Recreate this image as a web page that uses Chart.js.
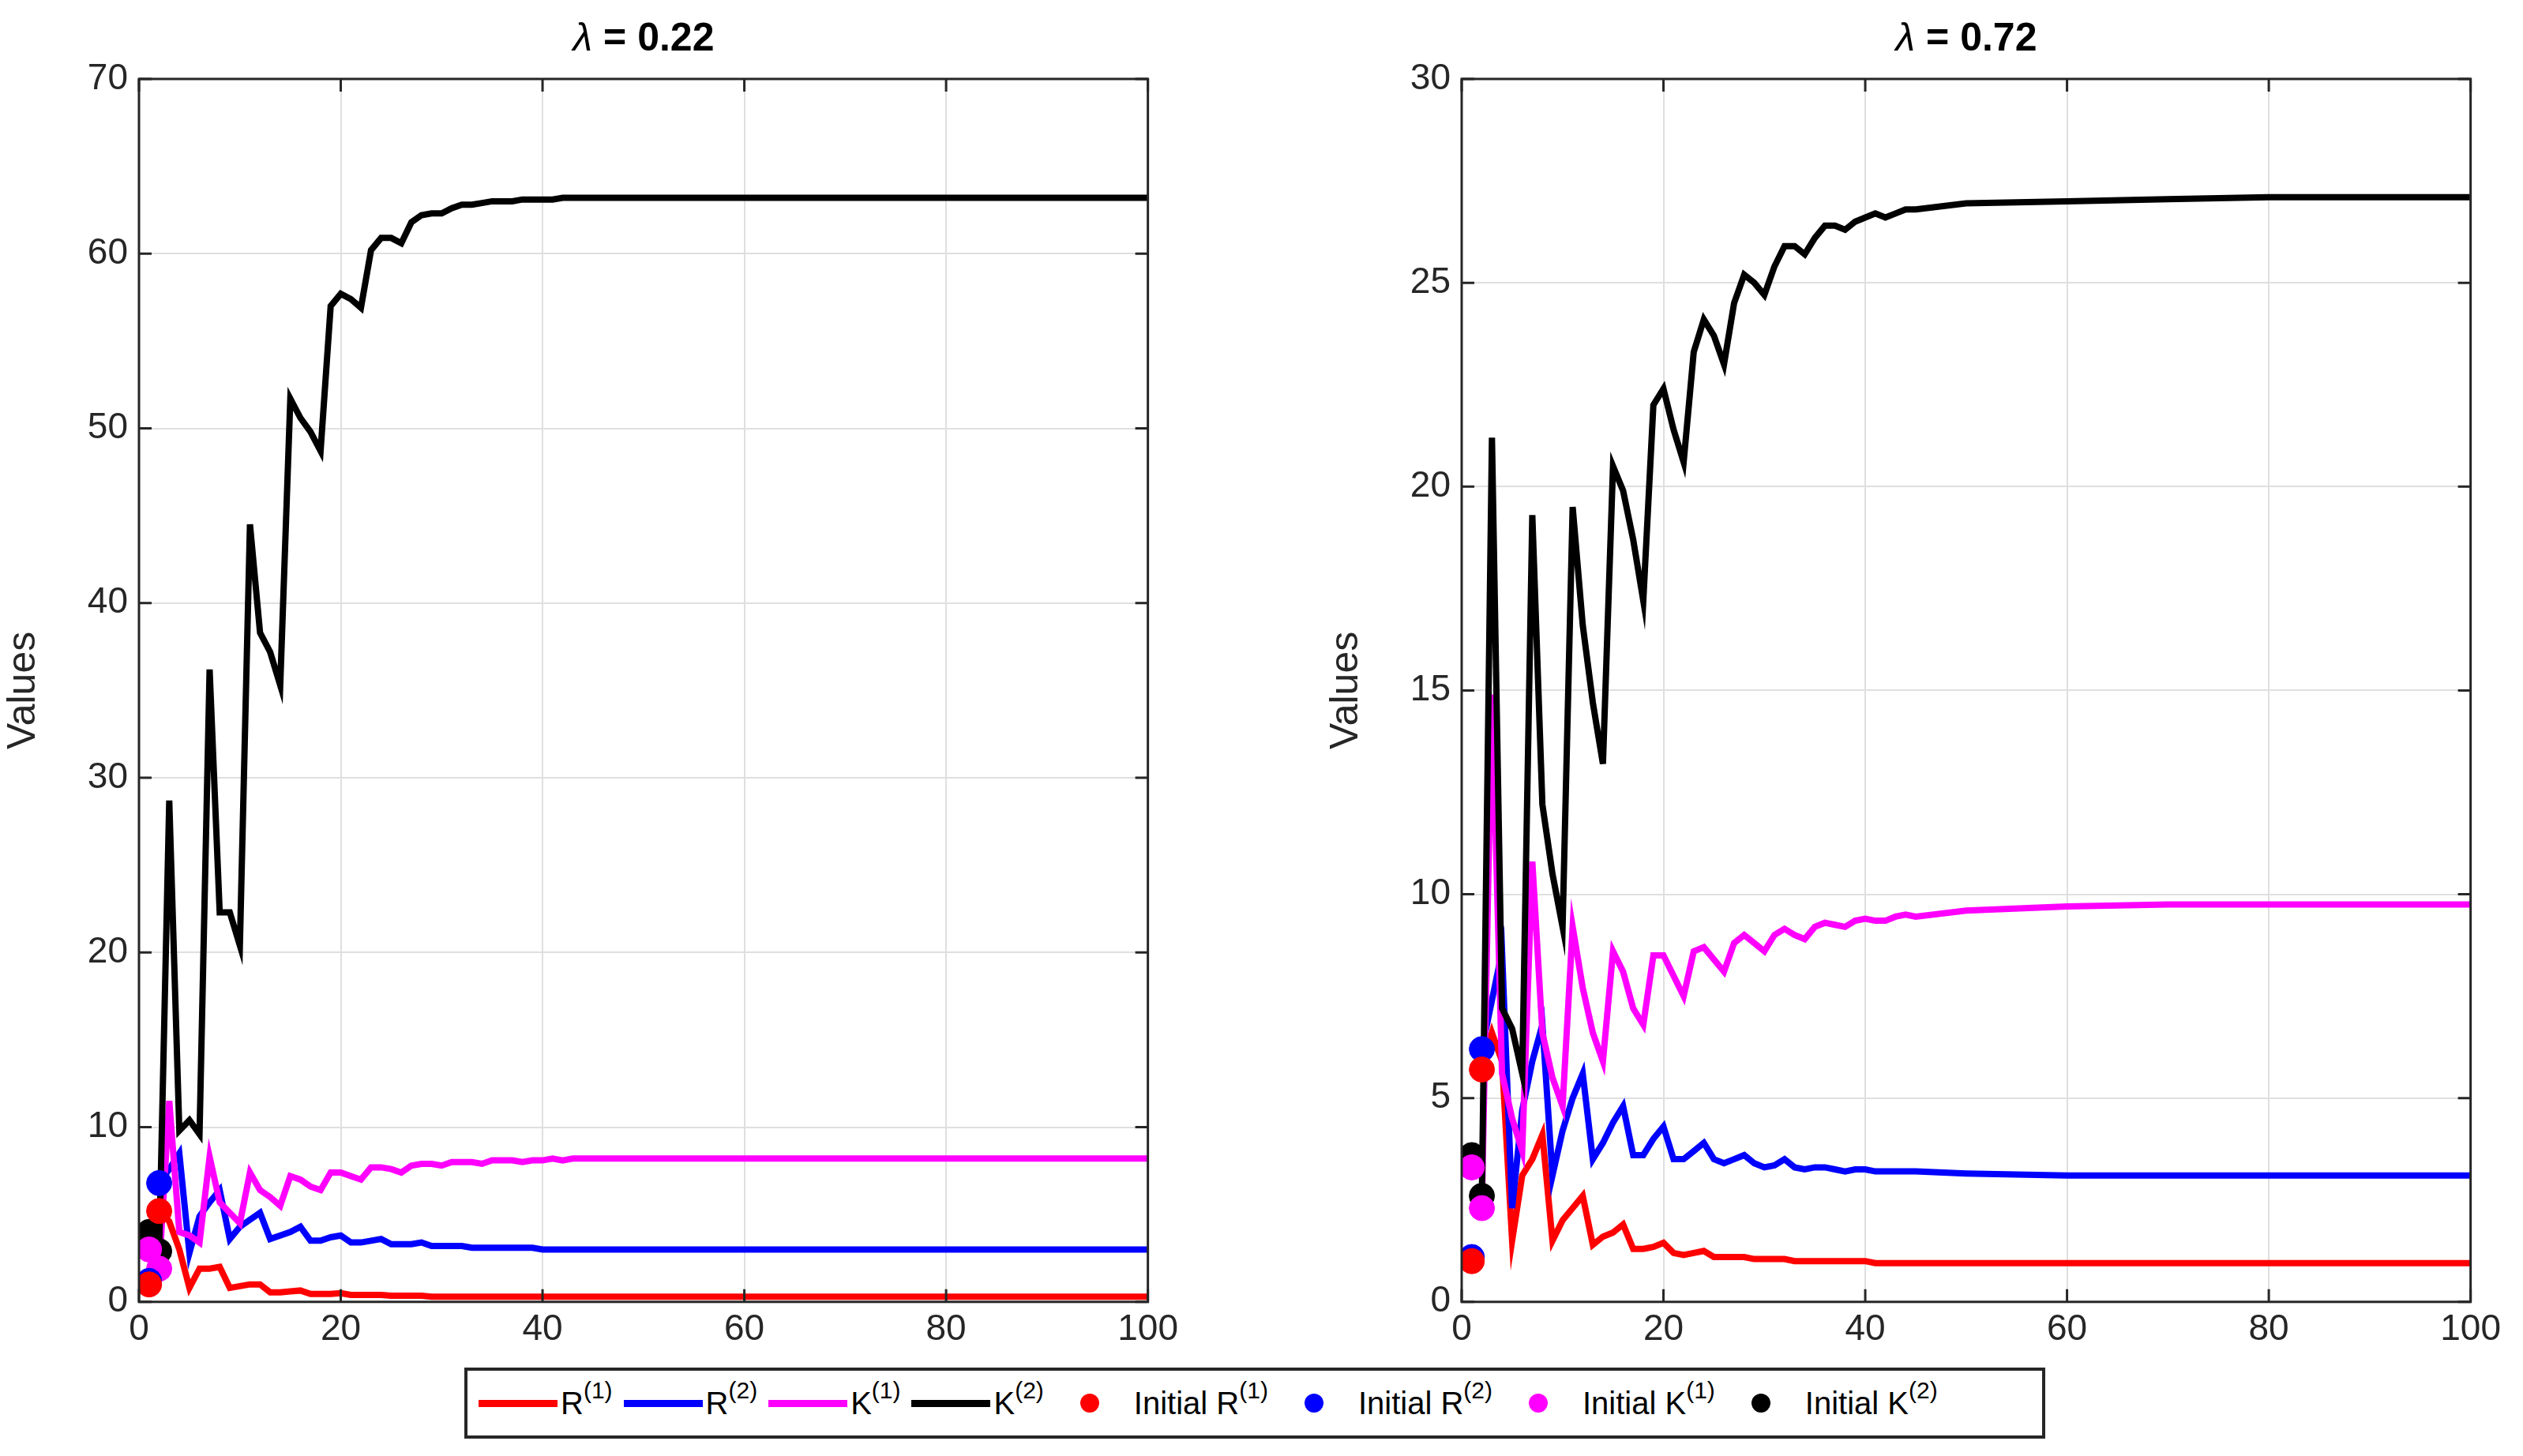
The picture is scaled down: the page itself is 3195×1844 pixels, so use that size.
<!DOCTYPE html>
<html>
<head>
<meta charset="utf-8">
<script src="https://cdn.jsdelivr.net/npm/chart.js@4"></script>
<style>
  body { margin: 0; background: #fff; width: 3195px; height: 1844px; position: relative; font-family: "Liberation Sans", Arial, sans-serif; overflow: hidden; }
  canvas { position: absolute; top: 0; }
  .title { position: absolute; top: 18px; font-size: 50px; color: #000; text-align: center; width: 600px; }
  .legend { position: absolute; left: 588px; top: 1732px; width: 1994px; height: 82px; border: 4px solid #262626; background: #fff;
    display: flex; align-items: center; font-size: 40px; color: #000; white-space: nowrap; }
  .legend span { display: inline-flex; align-items: center; }
  .ln { display: inline-block; width: 100px; height: 9px; margin: 0 4px 0 14px; }
  .dt { display: inline-block; width: 24px; height: 24px; border-radius: 50%; margin: 0 44px 0 46px; }
  sup { font-size: 30px; position: relative; top: -16px; }
</style>
</head>
<body>
<canvas id="left" width="1500" height="1720" style="left:0"></canvas>
<canvas id="right" width="1500" height="1720" style="left:1675px"></canvas>
<div class="title" style="left:515px"><i>λ</i> <b>= 0.22</b></div>
<div class="title" style="left:2190px"><i>λ</i> <b>= 0.72</b></div>
<div class="legend">
  <span><i class="ln" style="background:#ff0000"></i>R<sup>(1)</sup></span>
  <span><i class="ln" style="background:#0000ff"></i>R<sup>(2)</sup></span>
  <span><i class="ln" style="background:#ff00ff"></i>K<sup>(1)</sup></span>
  <span><i class="ln" style="background:#000000"></i>K<sup>(2)</sup></span>
  <span><i class="dt" style="background:#ff0000"></i>Initial R<sup>(1)</sup></span>
  <span><i class="dt" style="background:#0000ff"></i>Initial R<sup>(2)</sup></span>
  <span><i class="dt" style="background:#ff00ff"></i>Initial K<sup>(1)</sup></span>
  <span><i class="dt" style="background:#000000"></i>Initial K<sup>(2)</sup></span>
</div>
<script>
// iteration numbers (flat after ~45, so only every 10th kept beyond)
const iters = [2,3,4,5,6,7,8,9,10,11,12,13,14,15,16,17,18,19,20,21,22,23,24,25,26,27,28,29,30,31,32,33,34,35,36,37,38,39,40,41,42,43,44,45,50,60,70,80,90,100];
const initIters = [1, 2];

// lambda = 0.22
const leftR1 = [5.2,4.6,3.0,0.8,1.9,1.9,2.0,0.8,0.9,1.0,1.0,0.55,0.55,0.6,0.65,0.45,0.45,0.45,0.5,0.4,0.4,0.4,0.4,0.35,0.35,0.35,0.35,0.3,0.3,0.3,0.3,0.3,0.3,0.3,0.3,0.3,0.3,0.3,0.3,0.3,0.3,0.3,0.3,0.3,0.3,0.3,0.3,0.3,0.3,0.3];
const leftR2 = [6.8,7.6,8.5,2.8,4.9,5.7,6.4,3.6,4.3,4.7,5.1,3.6,3.8,4.0,4.3,3.5,3.5,3.7,3.8,3.4,3.4,3.5,3.6,3.3,3.3,3.3,3.4,3.2,3.2,3.2,3.2,3.1,3.1,3.1,3.1,3.1,3.1,3.1,3.0,3.0,3.0,3.0,3.0,3.0,3.0,3.0,3.0,3.0,3.0,3.0];
const leftK1 = [1.9,11.5,4.0,3.8,3.4,8.3,5.7,5.1,4.5,7.4,6.4,6.0,5.5,7.2,7.0,6.6,6.4,7.4,7.4,7.2,7.0,7.7,7.7,7.6,7.4,7.8,7.9,7.9,7.8,8.0,8.0,8.0,7.9,8.1,8.1,8.1,8.0,8.1,8.1,8.2,8.1,8.2,8.2,8.2,8.2,8.2,8.2,8.2,8.2,8.2];
const leftK2 = [3.0,28.7,9.8,10.4,9.6,36.2,22.3,22.3,20.4,44.5,38.3,37.2,35.3,51.7,50.6,49.8,48.7,57.0,57.7,57.4,56.9,60.2,60.9,60.9,60.6,61.8,62.2,62.3,62.3,62.6,62.8,62.8,62.9,63.0,63.0,63.0,63.1,63.1,63.1,63.1,63.2,63.2,63.2,63.2,63.2,63.2,63.2,63.2,63.2,63.2];
const leftInit = { R1: [1.0, 5.2], R2: [1.2, 6.8], K1: [3.0, 1.9], K2: [4.0, 2.9] };

// lambda = 0.72
const rightR1 = [5.7,6.6,5.9,1.5,3.1,3.5,4.1,1.5,2.0,2.3,2.6,1.4,1.6,1.7,1.9,1.3,1.3,1.35,1.45,1.2,1.15,1.2,1.25,1.1,1.1,1.1,1.1,1.05,1.05,1.05,1.05,1.0,1.0,1.0,1.0,1.0,1.0,1.0,1.0,0.95,0.95,0.95,0.95,0.95,0.95,0.95,0.95,0.95,0.95,0.95];
const rightR2 = [6.2,7.4,8.6,2.3,4.7,5.9,6.8,3.1,4.2,5.0,5.6,3.5,3.9,4.4,4.8,3.6,3.6,4.0,4.3,3.5,3.5,3.7,3.9,3.5,3.4,3.5,3.6,3.4,3.3,3.35,3.5,3.3,3.25,3.3,3.3,3.25,3.2,3.25,3.25,3.2,3.2,3.2,3.2,3.2,3.15,3.1,3.1,3.1,3.1,3.1];
const rightK1 = [2.3,14.9,5.6,4.5,3.7,10.8,6.6,5.5,4.8,9.2,7.7,6.6,5.9,8.6,8.1,7.2,6.8,8.5,8.5,8.0,7.5,8.6,8.7,8.4,8.1,8.8,9.0,8.8,8.6,9.0,9.15,9.0,8.9,9.2,9.3,9.25,9.2,9.35,9.4,9.35,9.35,9.45,9.5,9.45,9.6,9.7,9.75,9.75,9.75,9.75];
const rightK2 = [2.6,21.2,7.2,6.7,5.6,19.3,12.2,10.5,9.2,19.5,16.6,14.7,13.2,20.5,19.9,18.7,17.2,22.0,22.4,21.4,20.6,23.3,24.1,23.7,23.0,24.5,25.2,25.0,24.7,25.4,25.9,25.9,25.7,26.1,26.4,26.4,26.3,26.5,26.6,26.7,26.6,26.7,26.8,26.8,26.95,27.0,27.05,27.1,27.1,27.1];
const rightInit = { R1: [1.0, 5.7], R2: [1.1, 6.2], K1: [3.3, 2.3], K2: [3.6, 2.6] };

const colors = { R1: '#ff0000', R2: '#0000ff', K1: '#ff00ff', K2: '#000000' };
const axisColor = '#262626';

function pts(xs, ys) {
  return xs.map((x, i) => ({ x: x, y: ys[i] }));
}

// full MATLAB-style box with inward ticks
const boxPlugin = {
  id: 'box',
  afterDraw(chart) {
    const { ctx, chartArea: a, scales } = chart;
    ctx.save();
    ctx.strokeStyle = axisColor;
    ctx.lineWidth = 3;
    ctx.strokeRect(a.left, a.top, a.right - a.left, a.bottom - a.top);
    ctx.beginPath();
    scales.x.ticks.forEach(t => {
      const px = scales.x.getPixelForValue(t.value);
      ctx.moveTo(px, a.bottom); ctx.lineTo(px, a.bottom - 16);
      ctx.moveTo(px, a.top); ctx.lineTo(px, a.top + 16);
    });
    scales.y.ticks.forEach(t => {
      const py = scales.y.getPixelForValue(t.value);
      ctx.moveTo(a.left, py); ctx.lineTo(a.left + 16, py);
      ctx.moveTo(a.right, py); ctx.lineTo(a.right - 16, py);
    });
    ctx.stroke();
    ctx.restore();
  }
};

function makeChart(id, r1, r2, k1, k2, init, yMax, yStep) {
  const lineSet = (data, c, order) => ({
    type: 'line', data: pts(iters, data), borderColor: c, borderWidth: 8,
    pointRadius: 0, tension: 0, order: order, borderJoinStyle: 'miter'
  });
  const dotSet = (data, c) => ({
    type: 'scatter', data: pts(initIters, data), backgroundColor: c, borderColor: c,
    pointRadius: 16, order: 0
  });
  return new Chart(document.getElementById(id), {
    type: 'line',
    data: {
      datasets: [
        lineSet(r1, colors.R1, 4),
        lineSet(r2, colors.R2, 3),
        lineSet(k1, colors.K1, 2),
        lineSet(k2, colors.K2, 1),
        dotSet(init.R1, colors.R1),
        dotSet(init.R2, colors.R2),
        dotSet(init.K1, colors.K1),
        dotSet(init.K2, colors.K2),
      ],
    },
    options: {
      responsive: false,
      devicePixelRatio: 1,
      animation: false,
      layout: { padding: { top: 100, right: 42, bottom: 0, left: 0 } },
      plugins: { legend: { display: false }, tooltip: { enabled: false } },
      scales: {
        x: {
          type: 'linear', min: 0, max: 100,
          ticks: { stepSize: 20, color: axisColor, font: { size: 46, family: 'Liberation Sans' }, padding: 8 },
          grid: { color: '#dfdfdf', lineWidth: 2, drawTicks: false },
          border: { display: false },
        },
        y: {
          min: 0, max: yMax,
          ticks: { stepSize: yStep, color: axisColor, font: { size: 46, family: 'Liberation Sans' }, padding: 14 },
          grid: { color: '#dfdfdf', lineWidth: 2, drawTicks: false },
          border: { display: false },
          title: { display: true, text: 'Values', color: axisColor, font: { size: 50, family: 'Liberation Sans' }, padding: { top: 0, bottom: 4 } },
          afterFit(scale) { scale.width = 176; },
        },
      },
    },
    plugins: [boxPlugin],
  });
}

makeChart('left', leftR1, leftR2, leftK1, leftK2, leftInit, 70, 10);
makeChart('right', rightR1, rightR2, rightK1, rightK2, rightInit, 30, 5);
</script>
</body>
</html>
